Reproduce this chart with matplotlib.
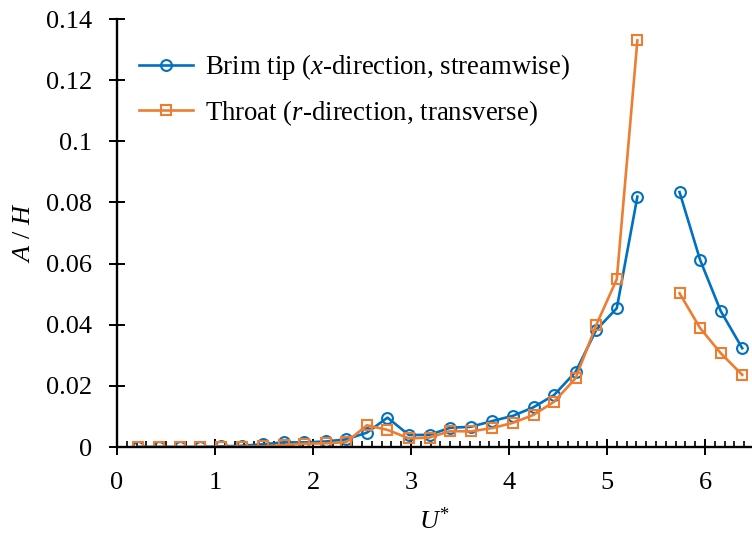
import numpy as np
import matplotlib.pyplot as plt
from matplotlib.ticker import MultipleLocator, FormatStrFormatter

plt.rcParams["font.family"] = "Liberation Serif"
plt.rcParams["mathtext.fontset"] = "custom"
plt.rcParams["mathtext.rm"] = "Liberation Serif"
plt.rcParams["mathtext.it"] = "Liberation Serif:italic"

# reduced velocity; nan marks the missing case, so the lines break there
u_star = [0.21, 0.43, 0.64, 0.85, 1.06, 1.28, 1.49, 1.70, 1.91, 2.13, 2.34,
          2.55, 2.76, 2.98, 3.19, 3.40, 3.61, 3.83, 4.04, 4.25, 4.46, 4.68,
          4.89, 5.10, 5.31, 5.53, 5.74, 5.95, 6.16, 6.38]

brim_tip = [0.0, 0.0, 0.0, 0.0, 0.0002, 0.0004, 0.0009, 0.0015, 0.0015, 0.0018,
            0.0025, 0.0047, 0.0096, 0.0039, 0.0040, 0.0063, 0.0066, 0.0085,
            0.0102, 0.0130, 0.0170, 0.0246, 0.0383, 0.0454, 0.0819, np.nan,
            0.0834, 0.0612, 0.0445, 0.0323]

throat = [0.0, 0.0, 0.0, 0.0, 0.0, 0.0001, 0.0002, 0.0006, 0.0011, 0.0012,
          0.0016, 0.0071, 0.0056, 0.0028, 0.0031, 0.0052, 0.0051, 0.0062,
          0.0079, 0.0105, 0.0148, 0.0225, 0.0399, 0.0549, 0.1330, np.nan,
          0.0503, 0.0389, 0.0307, 0.0236]

labels = [r"Brim tip ($x$-direction, streamwise)",
          r"Throat ($r$-direction, transverse)"]
colors = ["#0070C0", "#ED7D31"]

fig = plt.figure(figsize=(7.52, 5.36), dpi=100)
ax = fig.add_axes([117 / 752, 89 / 536, 635 / 752, 428 / 536])

ax.plot(u_star, brim_tip, color=colors[0], lw=1.9, marker="o", ms=7.8,
        mfc="none", mew=1.5, label=labels[0])
ax.plot(u_star, throat, color=colors[1], lw=1.9, marker="s", ms=7.8,
        mfc="none", mew=1.5, label=labels[1])

ax.set_xlim(0, 635 / 98)
ax.set_ylim(0, 0.14)
ax.xaxis.set_major_locator(MultipleLocator(1))
ax.xaxis.set_minor_locator(MultipleLocator(0.1))
ax.yaxis.set_major_locator(MultipleLocator(0.02))
ax.yaxis.set_major_formatter(FormatStrFormatter("%g"))
ax.xaxis.set_major_formatter(FormatStrFormatter("%g"))

for side in ["top", "right"]:
    ax.spines[side].set_visible(False)
for side in ["left", "bottom"]:
    ax.spines[side].set_linewidth(1.7)

ax.tick_params(axis="both", which="major", direction="inout", length=11.5,
               width=1.4, labelsize=19)
ax.tick_params(axis="x", which="major", pad=12)
ax.tick_params(axis="y", which="major", pad=12)
ax.tick_params(axis="x", which="minor", direction="in", length=4.5, width=1.2)

ax.set_xlabel(r"$U^{*}$", fontsize=19, labelpad=10)
ax.set_ylabel(r"$A$ / $H$", fontsize=19, labelpad=8)

ax.legend(loc="upper left", bbox_to_anchor=(0.035, 0.922), frameon=False,
          fontsize=19.3, borderpad=0, borderaxespad=0, handlelength=2.0,
          handletextpad=0.45, labelspacing=0.58)

fig.savefig("out.png", dpi=100)
